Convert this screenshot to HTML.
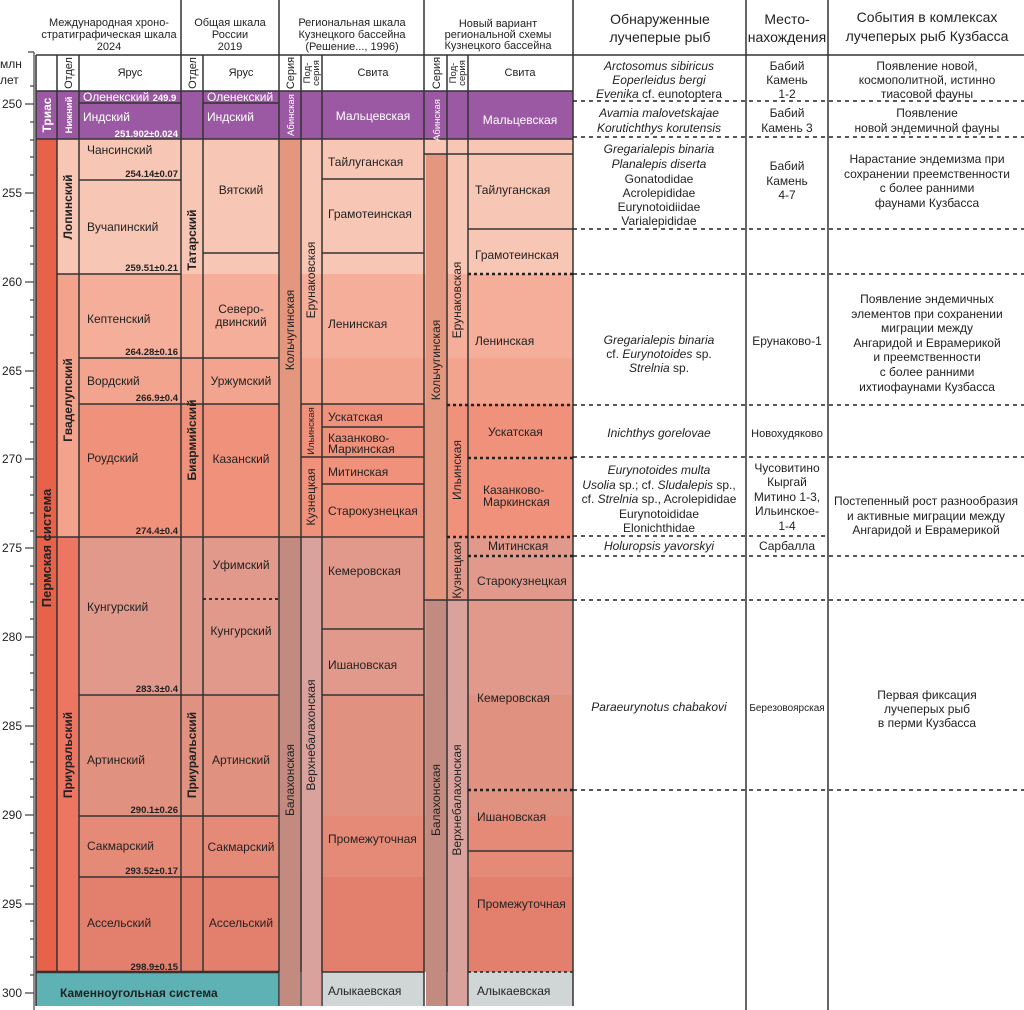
<!DOCTYPE html>
<html><head><meta charset="utf-8"><style>
html,body{margin:0;padding:0;background:#fff}
svg{display:block}
text{font-family:"Liberation Sans",Arial,sans-serif;fill:#222;font-size:12px}
.b{font-weight:bold}
.w{fill:#fff}
text.s,.s text{font-size:9.5px}
.i{font-style:italic}
.h text{font-size:14px}
.hs text{font-size:11px}
</style></head><body>
<svg width="1024" height="1010" viewBox="0 0 1024 1010" xmlns="http://www.w3.org/2000/svg">
<g>
<rect x="57" y="139" width="516" height="135" fill="#f8c6b4"/>
<rect x="57" y="274" width="516" height="84" fill="#f5ae99"/>
<rect x="57" y="358" width="516" height="46" fill="#f3a48e"/>
<rect x="57" y="404" width="516" height="133" fill="#f0927b"/>
<rect x="57" y="537" width="516" height="158" fill="#e0998b"/>
<rect x="57" y="695" width="516" height="121" fill="#e0917f"/>
<rect x="57" y="816" width="516" height="61" fill="#e68a78"/>
<rect x="57" y="877" width="516" height="95" fill="#e37f6d"/>
<rect x="36" y="91" width="537" height="48" fill="#9b59a3"/>
<rect x="424" y="139" width="149" height="15" fill="#f8c6b4"/>
<rect x="36" y="139" width="21" height="833" fill="#e8624a"/>
<rect x="57" y="274" width="22" height="263" fill="#f3a28b"/>
<rect x="57" y="537" width="22" height="435" fill="#ec7662"/>
<rect x="280" y="139" width="20" height="398" fill="#e5967f"/>
<rect x="280" y="537" width="20" height="469" fill="#c38a80"/>
<rect x="302" y="537" width="19" height="469" fill="#d9a29c"/>
<rect x="426" y="154" width="21" height="446" fill="#e5967f"/>
<rect x="426" y="600" width="21" height="406" fill="#c38a80"/>
<rect x="448" y="600" width="20" height="406" fill="#d9a29c"/>
<rect x="36" y="972" width="243" height="34" fill="#5fb2b4"/>
<rect x="280" y="972" width="41" height="34" fill="#fff"/>
<rect x="322" y="972" width="102" height="34" fill="#cfd6d5"/>
<rect x="469" y="972" width="104" height="34" fill="#cfd6d5"/>
<rect x="280" y="972" width="20" height="34" fill="#c38a80"/>
<rect x="302" y="972" width="19" height="34" fill="#d9a29c"/>
<rect x="424" y="972" width="45" height="34" fill="#fff"/>
<rect x="426" y="972" width="21" height="34" fill="#c38a80"/>
<rect x="448" y="972" width="20" height="34" fill="#d9a29c"/>
</g>
<g stroke="#444" stroke-width="1.2">
<line x1="34" y1="52" x2="34" y2="1010"/>
<path d="M30 86H34M25 104H34M30 122H34M30 140H34M30 157H34M30 175H34M25 193H34M30 211H34M30 228H34M30 246H34M30 264H34M25 282H34M30 300H34M30 317H34M30 335H34M30 353H34M25 371H34M30 388H34M30 406H34M30 424H34M30 442H34M25 459H34M30 477H34M30 495H34M30 513H34M30 531H34M25 548H34M30 566H34M30 584H34M30 602H34M30 619H34M25 637H34M30 655H34M30 673H34M30 690H34M30 708H34M25 726H34M30 744H34M30 762H34M30 779H34M30 797H34M25 815H34M30 833H34M30 850H34M30 868H34M30 886H34M25 904H34M30 921H34M30 939H34M30 957H34M30 975H34M25 993H34M28 52H34"/>
</g>
<g>
<text x="0" y="68">млн</text><text x="0" y="84">лет</text>
<text x="22" y="108" text-anchor="end">250</text>
<text x="22" y="197" text-anchor="end">255</text>
<text x="22" y="286" text-anchor="end">260</text>
<text x="22" y="375" text-anchor="end">265</text>
<text x="22" y="463" text-anchor="end">270</text>
<text x="22" y="552" text-anchor="end">275</text>
<text x="22" y="641" text-anchor="end">280</text>
<text x="22" y="730" text-anchor="end">285</text>
<text x="22" y="819" text-anchor="end">290</text>
<text x="22" y="908" text-anchor="end">295</text>
<text x="22" y="997" text-anchor="end">300</text>
</g>
<g stroke="#333" stroke-width="1.5" fill="none">
<line x1="36" y1="55" x2="1024" y2="55"/>
<line x1="36" y1="55" x2="36" y2="1006"/>
<line x1="57" y1="55" x2="57" y2="972"/>
<line x1="79" y1="55" x2="79" y2="972"/>
<line x1="181" y1="0" x2="181" y2="972"/>
<line x1="203" y1="55" x2="203" y2="972"/>
<line x1="279" y1="0" x2="279" y2="1006"/>
<line x1="301" y1="55" x2="301" y2="1006"/>
<line x1="322" y1="55" x2="322" y2="1006"/>
<line x1="424" y1="0" x2="424" y2="1006"/>
<line x1="447" y1="55" x2="447" y2="1006"/>
<line x1="468" y1="55" x2="468" y2="1006"/>
<line x1="573" y1="0" x2="573" y2="1006"/>
<line x1="746" y1="0" x2="746" y2="1010"/>
<line x1="828" y1="0" x2="828" y2="1010"/>
<line x1="36" y1="91" x2="573" y2="91"/>
<line x1="36" y1="139" x2="573" y2="139"/>
<line x1="79" y1="103" x2="181" y2="103"/>
<line x1="203" y1="103" x2="279" y2="103"/>
<line x1="79" y1="180" x2="181" y2="180"/>
<line x1="57" y1="274" x2="181" y2="274"/>
<line x1="79" y1="358" x2="279" y2="358"/>
<line x1="79" y1="404" x2="279" y2="404"/>
<line x1="36" y1="537" x2="424" y2="537"/>
<line x1="79" y1="695" x2="279" y2="695"/>
<line x1="79" y1="816" x2="279" y2="816"/>
<line x1="79" y1="877" x2="279" y2="877"/>
<line x1="36" y1="972" x2="279" y2="972" stroke-width="2.5"/>
<line x1="203" y1="253" x2="279" y2="253"/>
<line x1="322" y1="179" x2="424" y2="179"/>
<line x1="322" y1="253" x2="424" y2="253"/>
<line x1="301" y1="404" x2="424" y2="404"/>
<line x1="322" y1="427" x2="424" y2="427"/>
<line x1="301" y1="457" x2="424" y2="457"/>
<line x1="322" y1="484" x2="424" y2="484"/>
<line x1="322" y1="629" x2="424" y2="629"/>
<line x1="322" y1="695" x2="424" y2="695"/>
<line x1="322" y1="972" x2="424" y2="972"/>
<line x1="424" y1="154" x2="573" y2="154"/>
<line x1="468" y1="229" x2="573" y2="229"/>
<line x1="424" y1="600" x2="573" y2="600"/>
<line x1="468" y1="851" x2="573" y2="851"/>
</g>
<g stroke="#222" stroke-width="2.5" stroke-dasharray="3 3" fill="none">
<line x1="468" y1="274" x2="573" y2="274"/>
<line x1="203" y1="599" x2="279" y2="599" stroke-width="1.8"/>
<line x1="447" y1="405" x2="573" y2="405"/>
<line x1="468" y1="458" x2="573" y2="458"/>
<line x1="447" y1="537" x2="573" y2="537"/>
<line x1="468" y1="556" x2="573" y2="556"/>
<line x1="468" y1="790" x2="573" y2="790"/>
<line x1="468" y1="972" x2="573" y2="972" stroke-width="1.5"/>
</g>
<g stroke="#222" stroke-width="1.5" stroke-dasharray="4 4" fill="none">
<line x1="573" y1="101" x2="1024" y2="101"/>
<line x1="573" y1="137" x2="1024" y2="137"/>
<line x1="573" y1="229" x2="1024" y2="229"/>
<line x1="573" y1="274" x2="1024" y2="274"/>
<line x1="573" y1="405" x2="1024" y2="405"/>
<line x1="573" y1="457" x2="1024" y2="457"/>
<line x1="573" y1="536" x2="828" y2="536"/>
<line x1="573" y1="556" x2="1024" y2="556"/>
<line x1="573" y1="600" x2="1024" y2="600"/>
<line x1="573" y1="790" x2="1024" y2="790"/>
</g>
<g class="hs" text-anchor="middle">
<text x="109" y="26">Международная хроно-</text>
<text x="109" y="38">стратиграфическая шкала</text>
<text x="109" y="50">2024</text>
<text x="230" y="26">Общая шкала</text>
<text x="230" y="38">России</text>
<text x="230" y="50">2019</text>
<text x="352" y="26">Региональная шкала</text>
<text x="352" y="38">Кузнецкого бассейна</text>
<text x="352" y="50">(Решение..., 1996)</text>
<text x="498" y="27">Новый вариант</text>
<text x="498" y="38">региональной схемы</text>
<text x="498" y="49">Кузнецкого бассейна</text>
<text x="130" y="76">Ярус</text>
<text x="241" y="76">Ярус</text>
<text x="373" y="76">Свита</text>
<text x="520" y="76">Свита</text>
</g>
<g class="h" text-anchor="middle">
<text x="660" y="24">Обнаруженные</text>
<text x="660" y="42">лучеперые рыб</text>
<text x="787" y="24">Место-</text>
<text x="787" y="42">нахождения</text>
<text x="927" y="22">События в комлексах</text>
<text x="927" y="41">лучеперых рыб Кузбасса</text>
</g>
<g class="hs" text-anchor="middle">
<text transform="translate(72,73) rotate(-90)">Отдел</text>
<text transform="translate(196,73) rotate(-90)">Отдел</text>
<text transform="translate(294,73) rotate(-90)">Серия</text>
<text transform="translate(310,73) rotate(-90)" style="font-size:9.5px">Под-</text>
<text transform="translate(319,73) rotate(-90)" style="font-size:9.5px">серия</text>
<text transform="translate(440,73) rotate(-90)">Серия</text>
<text transform="translate(456,73) rotate(-90)" style="font-size:9.5px">Под-</text>
<text transform="translate(465,73) rotate(-90)" style="font-size:9.5px">серия</text>
</g>
<g>
<text x="83" y="101" class="w">Оленекский <tspan class="b" style="font-size:9.5px">249.9</tspan></text>
<text x="83" y="121" class="w">Индский</text>
<text x="178" y="137" class="w b s" text-anchor="end">251.902±0.024</text>
<text x="207" y="101" class="w">Оленекский</text>
<text x="207" y="121" class="w">Индский</text>
<text x="373" y="120" class="w" text-anchor="middle">Мальцевская</text>
<text x="520" y="124" class="w" text-anchor="middle">Мальцевская</text>
<text x="87" y="154">Чансинский</text>
<text x="178" y="177" class="b s" text-anchor="end">254.14±0.07</text>
<text x="87" y="231">Вучапинский</text>
<text x="178" y="271" class="b s" text-anchor="end">259.51±0.21</text>
<text x="87" y="323">Кептенский</text>
<text x="178" y="355" class="b s" text-anchor="end">264.28±0.16</text>
<text x="87" y="385">Вордский</text>
<text x="178" y="401" class="b s" text-anchor="end">266.9±0.4</text>
<text x="87" y="462">Роудский</text>
<text x="178" y="534" class="b s" text-anchor="end">274.4±0.4</text>
<text x="87" y="611">Кунгурский</text>
<text x="178" y="692" class="b s" text-anchor="end">283.3±0.4</text>
<text x="87" y="764">Артинский</text>
<text x="178" y="813" class="b s" text-anchor="end">290.1±0.26</text>
<text x="87" y="850">Сакмарский</text>
<text x="178" y="874" class="b s" text-anchor="end">293.52±0.17</text>
<text x="87" y="927">Ассельский</text>
<text x="178" y="970" class="b s" text-anchor="end">298.9±0.15</text>
<text x="60" y="997" class="b">Каменноугольная система</text>
</g>
<g text-anchor="middle">
<text x="241" y="194">Вятский</text>
<text x="241" y="313">Северо-</text>
<text x="241" y="326">двинский</text>
<text x="241" y="385">Уржумский</text>
<text x="241" y="463">Казанский</text>
<text x="241" y="569">Уфимский</text>
<text x="241" y="635">Кунгурский</text>
<text x="241" y="764">Артинский</text>
<text x="241" y="851">Сакмарский</text>
<text x="241" y="927">Ассельский</text>
</g>
<g>
<text x="328" y="166">Тайлуганская</text>
<text x="328" y="218">Грамотеинская</text>
<text x="328" y="328">Ленинская</text>
<text x="328" y="421">Ускатская</text>
<text x="328" y="442">Казанково-</text>
<text x="328" y="453">Маркинская</text>
<text x="328" y="476">Митинская</text>
<text x="328" y="515">Старокузнецкая</text>
<text x="328" y="575">Кемеровская</text>
<text x="328" y="669">Ишановская</text>
<text x="328" y="843">Промежуточная</text>
<text x="328" y="995">Алыкаевская</text>
<text x="475" y="194">Тайлуганская</text>
<text x="475" y="259">Грамотеинская</text>
<text x="475" y="345">Ленинская</text>
<text x="488" y="436">Ускатская</text>
<text x="483" y="494">Казанково-</text>
<text x="483" y="506">Маркинская</text>
<text x="488" y="550">Митинская</text>
<text x="477" y="585">Старокузнецкая</text>
<text x="477" y="702">Кемеровская</text>
<text x="477" y="821">Ишановская</text>
<text x="477" y="908">Промежуточная</text>
<text x="477" y="995">Алыкаевская</text>
</g>
<g text-anchor="middle">
<text class="w b" transform="translate(51,115) rotate(-90)">Триас</text>
<text class="b" transform="translate(51,548) rotate(-90)" style="font-size:13px">Пермская система</text>
<text class="w b s" transform="translate(72,115) rotate(-90)">Нижний</text>
<text class="b" transform="translate(72,207) rotate(-90)">Лопинский</text>
<text class="b" transform="translate(72,400) rotate(-90)">Гваделупский</text>
<text class="b" transform="translate(72,755) rotate(-90)">Приуральский</text>
<text class="b" transform="translate(196,240) rotate(-90)">Татарский</text>
<text class="b" transform="translate(196,440) rotate(-90)">Биармийский</text>
<text class="b" transform="translate(196,755) rotate(-90)">Приуральский</text>
<text class="w s" transform="translate(294,115) rotate(-90)">Абинская</text>
<text transform="translate(294,330) rotate(-90)">Кольчугинская</text>
<text transform="translate(294,780) rotate(-90)">Балахонская</text>
<text transform="translate(315,280) rotate(-90)">Ерунаковская</text>
<text class="s" transform="translate(314,431) rotate(-90)">Ильинская</text>
<text transform="translate(315,497) rotate(-90)">Кузнецкая</text>
<text transform="translate(315,735) rotate(-90)">Верхнебалахонская</text>
<text class="w s" transform="translate(440,120) rotate(-90)">Абинская</text>
<text transform="translate(440,360) rotate(-90)">Кольчугинская</text>
<text transform="translate(440,800) rotate(-90)">Балахонская</text>
<text transform="translate(461,300) rotate(-90)">Ерунаковская</text>
<text transform="translate(461,470) rotate(-90)">Ильинская</text>
<text transform="translate(461,570) rotate(-90)">Кузнецкая</text>
<text transform="translate(461,800) rotate(-90)">Верхнебалахонская</text>
</g>
<g text-anchor="middle">
<text x="659" y="70" class="i">Arctosomus sibiricus</text>
<text x="659" y="84" class="i">Eoperleidus bergi</text>
<text x="659" y="98"><tspan class="i">Evenika</tspan> cf. eunotoptera</text>
<text x="659" y="117" class="i">Avamia malovetskajae</text>
<text x="659" y="132" class="i">Korutichthys korutensis</text>
<text x="659" y="153" class="i">Gregarialepis binaria</text>
<text x="659" y="168" class="i">Planalepis diserta</text>
<text x="659" y="183">Gonatodidae</text>
<text x="659" y="197">Acrolepididae</text>
<text x="659" y="211">Eurynotoidiidae</text>
<text x="659" y="225">Varialepididae</text>
<text x="659" y="344" class="i">Gregarialepis binaria</text>
<text x="659" y="358">cf. <tspan class="i">Eurynotoides</tspan> sp.</text>
<text x="659" y="372"><tspan class="i">Strelnia</tspan> sp.</text>
<text x="659" y="437" class="i">Inichthys gorelovae</text>
<text x="659" y="474" class="i">Eurynotoides multa</text>
<text x="659" y="489"><tspan class="i">Usolia</tspan> sp.; cf. <tspan class="i">Sludalepis</tspan> sp.,</text>
<text x="659" y="503">cf. <tspan class="i">Strelnia</tspan> sp., Acrolepididae</text>
<text x="659" y="518">Eurynotoididae</text>
<text x="659" y="532">Elonichthidae</text>
<text x="659" y="550" class="i">Holuropsis yavorskyi</text>
<text x="659" y="711" class="i">Paraeurynotus chabakovi</text>
<text x="787" y="70">Бабий</text>
<text x="787" y="84">Камень</text>
<text x="787" y="98">1-2</text>
<text x="787" y="117">Бабий</text>
<text x="787" y="132">Камень 3</text>
<text x="787" y="170">Бабий</text>
<text x="787" y="185">Камень</text>
<text x="787" y="199">4-7</text>
<text x="787" y="345">Ерунаково-1</text>
<text x="787" y="437" style="font-size:11px">Новохудяково</text>
<text x="787" y="472">Чусовитино</text>
<text x="787" y="486">Кыргай</text>
<text x="787" y="501">Митино 1-3,</text>
<text x="787" y="515">Ильинское-</text>
<text x="787" y="530">1-4</text>
<text x="787" y="550">Сарбалла</text>
<text x="787" y="711" style="font-size:10px">Березовоярская</text>
<text x="927" y="70">Появление новой,</text>
<text x="927" y="84">космополитной, истинно</text>
<text x="927" y="98">тиасовой фауны</text>
<text x="927" y="117">Появление</text>
<text x="927" y="132">новой эндемичной фауны</text>
<text x="927" y="163">Нарастание эндемизма при</text>
<text x="927" y="178">сохранении преемственности</text>
<text x="927" y="192">с более ранними</text>
<text x="927" y="207">фаунами Кузбасса</text>
<text x="927" y="303">Появление эндемичных</text>
<text x="927" y="318">элементов при сохранении</text>
<text x="927" y="332">миграции между</text>
<text x="927" y="347">Ангаридой и Еврамерикой</text>
<text x="927" y="361">и преемственности</text>
<text x="927" y="376">с более ранними</text>
<text x="927" y="391">ихтиофаунами Кузбасса</text>
<text x="926" y="505">Постепенный рост разнообразия</text>
<text x="926" y="520">и активные миграции между</text>
<text x="926" y="534">Ангаридой и Еврамерикой</text>
<text x="927" y="699">Первая фиксация</text>
<text x="927" y="713">лучеперых рыб</text>
<text x="927" y="727">в перми Кузбасса</text>
</g>
</svg>
</body></html>
